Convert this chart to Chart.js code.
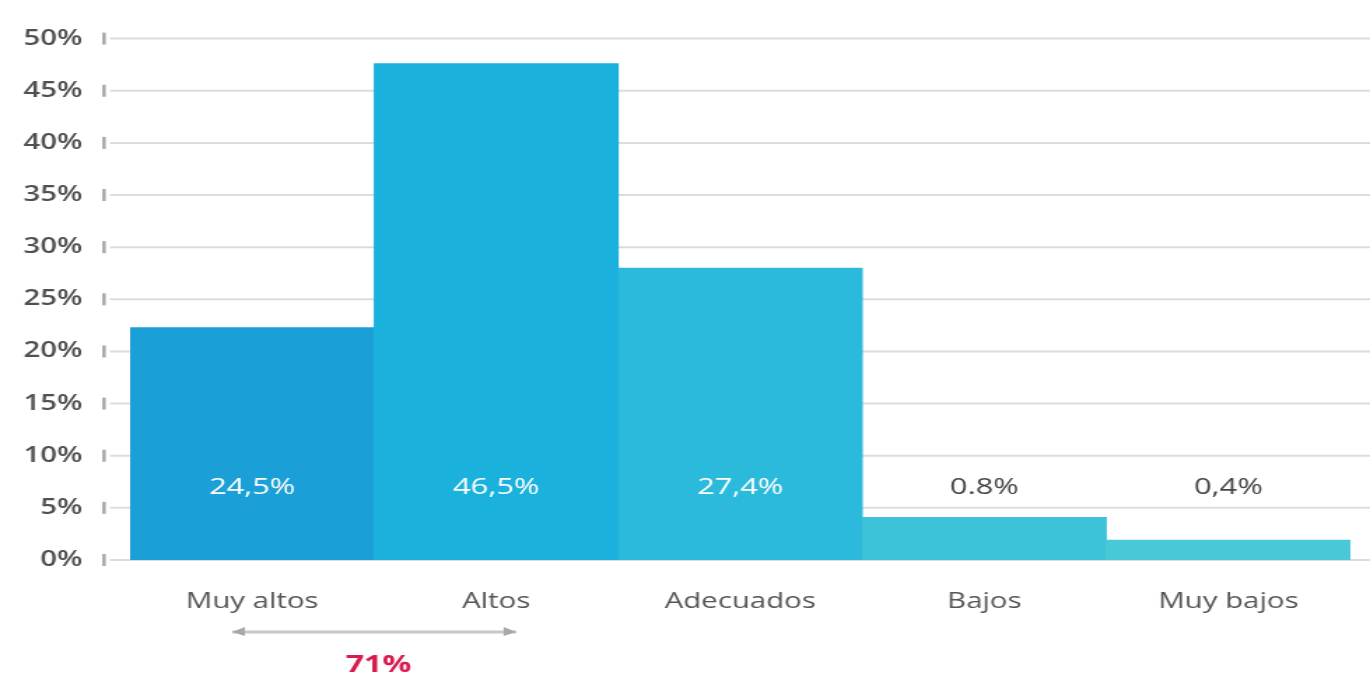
<!DOCTYPE html>
<html>
<head>
<meta charset="utf-8">
<script src="https://cdn.jsdelivr.net/npm/chart.js@4/dist/chart.umd.min.js"></script>
<style>
  html, body { margin: 0; padding: 0; background: #ffffff; overflow: hidden; }
  #wrap { width: 979px; height: 679px; position: relative; transform-origin: 0 0; transform: scaleX(1.39939); }
</style>
</head>
<body>
<div id="wrap"><canvas id="c" width="979" height="679"></canvas></div>
<script>
const categories = ['Muy altos', 'Altos', 'Adecuados', 'Bajos', 'Muy bajos'];
const values = [22.3, 47.6, 28.0, 4.1, 1.9];
const valueLabels = ['24,5%', '46,5%', '27,4%', '0.8%', '0,4%'];
const barColors = ['#1a9fd6', '#1bb1dd', '#2bbadb', '#3cc2d9', '#49c9d7'];
const labelColors = ['#ffffff', '#ffffff', '#ffffff', '#444444', '#444444'];
const yTicks = [0, 5, 10, 15, 20, 25, 30, 35, 40, 45, 50];
const groupLabel = '71%';
const groupRange = [0, 1];

const S = 1370 / 979;

const extras = {
  id: 'extras',
  beforeDatasetsDraw(chart) {
    const ctx = chart.ctx;
    const y = chart.scales.y;
    ctx.save();
    yTicks.forEach(v => {
      const py = y.getPixelForValue(v);
      ctx.strokeStyle = '#dcdcdc';
      ctx.lineWidth = 2;
      ctx.beginPath();
      ctx.moveTo(110 / S, py);
      ctx.lineTo(chart.width, py);
      ctx.stroke();
      ctx.strokeStyle = '#a8a8a8';
      ctx.lineWidth = 2.5;
      ctx.beginPath();
      ctx.moveTo(104 / S, py - 6);
      ctx.lineTo(104 / S, py + 6);
      ctx.stroke();
    });
    ctx.restore();
  },
  afterDatasetsDraw(chart) {
    const ctx = chart.ctx;
    const meta = chart.getDatasetMeta(0);
    const y = chart.scales.y;
    ctx.save();
    ctx.font = '22px "Open Sans", sans-serif';
    ctx.textAlign = 'center';
    ctx.textBaseline = 'middle';
    meta.data.forEach((bar, i) => {
      ctx.fillStyle = labelColors[i];
      ctx.fillText(valueLabels[i], bar.x, y.getPixelForValue(6.9));
    });
    const x0 = meta.data[groupRange[0]].x - 20 / S;
    const x1 = meta.data[groupRange[1]].x + 20 / S;
    const by = 632;
    ctx.strokeStyle = '#c8c8c8';
    ctx.lineWidth = 3;
    ctx.beginPath();
    ctx.moveTo(x0, by);
    ctx.lineTo(x1, by);
    ctx.stroke();
    ctx.fillStyle = '#a8a8a8';
    ctx.beginPath();
    ctx.moveTo(x0, by); ctx.lineTo(x0 + 9, by - 5); ctx.lineTo(x0 + 9, by + 4); ctx.closePath(); ctx.fill();
    ctx.beginPath();
    ctx.moveTo(x1, by); ctx.lineTo(x1 - 9, by - 5); ctx.lineTo(x1 - 9, by + 4); ctx.closePath(); ctx.fill();
    ctx.fillStyle = '#d81b4f';
    ctx.font = 'bold 23px "Open Sans", sans-serif';
    ctx.fillText(groupLabel, (x0 + x1) / 2 + 3, 665);
    ctx.restore();
  }
};

new Chart(document.getElementById('c'), {
  type: 'bar',
  data: {
    labels: categories,
    datasets: [{
      data: values,
      backgroundColor: barColors,
      borderWidth: 0,
      categoryPercentage: 1.0,
      barPercentage: 1.0
    }]
  },
  options: {
    responsive: false,
    animation: false,
    devicePixelRatio: 1,
    layout: { padding: { top: 7, right: 14, left: 0, bottom: 0 } },
    plugins: { legend: { display: false }, tooltip: { enabled: false } },
    scales: {
      x: {
        grid: { display: false },
        border: { display: false },
        ticks: { color: '#555555', font: { family: '"Open Sans", sans-serif', size: 21 }, padding: 21 },
        afterFit(scale) { scale.height = 119; }
      },
      y: {
        min: 0, max: 50,
        grid: { display: false },
        border: { display: false },
        afterBuildTicks(scale) { scale.ticks = yTicks.map(v => ({ value: v })); },
        ticks: {
          color: '#505050',
          font: { family: '"Open Sans", sans-serif', size: 21, weight: '600' },
          padding: 26,
          callback: v => v + '%'
        },
        afterFit(scale) { scale.width = 93; }
      }
    }
  },
  plugins: [extras]
});
</script>
</body>
</html>
